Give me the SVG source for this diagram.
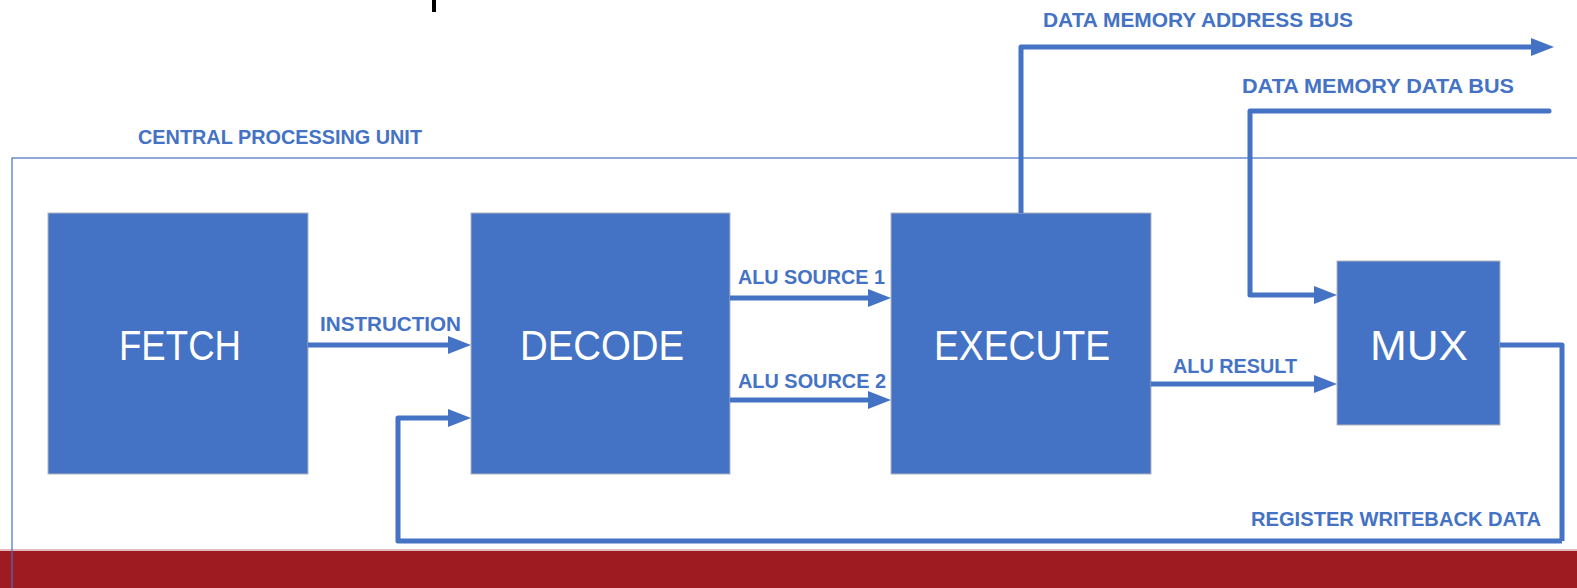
<svg xmlns="http://www.w3.org/2000/svg" width="1577" height="588" viewBox="0 0 1577 588">
<style>
.node{fill:#4472C4;stroke:#B0B4BC;stroke-width:1}
.big{font-family:"Liberation Sans",Arial,sans-serif;font-size:42px;fill:#FFFFFF;text-anchor:middle}
.lbl{font-family:"Liberation Sans",Arial,sans-serif;font-size:21px;font-weight:bold;fill:#4472C4}
.wire{fill:none;stroke:#4472C4;stroke-width:5;stroke-linejoin:round}
</style>
<defs>
<marker id="ah" markerUnits="userSpaceOnUse" markerWidth="24" markerHeight="20" refX="2" refY="9" orient="auto">
<path d="M0,0 L23,9 L0,18 z" fill="#4472C4"/>
</marker>
</defs>
<rect x="0" y="0" width="1577" height="588" fill="#FFFFFF"/>
<rect x="432" y="0" width="4" height="12" fill="#000000"/>
<g id="footer">
<rect x="0" y="551" width="1577" height="37" fill="#9E1B22"/>
<rect x="0" y="549" width="1577" height="2" fill="#E3B9BB"/>
</g>
<g id="cpu">
<rect x="12" y="158" width="1600" height="500" fill="none" stroke="#4472C4" stroke-width="1.2"/>
<text class="lbl" x="138" y="144" textLength="284" lengthAdjust="spacingAndGlyphs">CENTRAL PROCESSING UNIT</text>
</g>
<g id="fetch">
<rect class="node" x="48" y="213" width="260" height="261"/>
<text class="big" x="180" y="360" textLength="122" lengthAdjust="spacingAndGlyphs">FETCH</text>
</g>
<g id="decode">
<rect class="node" x="471" y="213" width="259" height="261"/>
<text class="big" x="602" y="360" textLength="164" lengthAdjust="spacingAndGlyphs">DECODE</text>
</g>
<g id="execute">
<rect class="node" x="891" y="213" width="260" height="261"/>
<text class="big" x="1022" y="360" textLength="176" lengthAdjust="spacingAndGlyphs">EXECUTE</text>
</g>
<g id="mux">
<rect class="node" x="1337" y="261" width="163" height="164"/>
<text class="big" x="1419" y="360" textLength="98" lengthAdjust="spacingAndGlyphs">MUX</text>
</g>
<g id="connectors">
<path class="wire" d="M308,345 H450" marker-end="url(#ah)"/>
<text class="lbl" x="320" y="331" textLength="141" lengthAdjust="spacingAndGlyphs">INSTRUCTION</text>
<path class="wire" d="M730,298 H870" marker-end="url(#ah)"/>
<text class="lbl" x="738" y="284" textLength="147" lengthAdjust="spacingAndGlyphs">ALU SOURCE 1</text>
<path class="wire" d="M730,400 H870" marker-end="url(#ah)"/>
<text class="lbl" x="738" y="388" textLength="148" lengthAdjust="spacingAndGlyphs">ALU SOURCE 2</text>
<path class="wire" d="M1151,384 H1316" marker-end="url(#ah)"/>
<text class="lbl" x="1173" y="373" textLength="124" lengthAdjust="spacingAndGlyphs">ALU RESULT</text>
<path class="wire" d="M1021,213 V47 H1533" marker-end="url(#ah)"/>
<text class="lbl" x="1043" y="27" textLength="310" lengthAdjust="spacingAndGlyphs">DATA MEMORY ADDRESS BUS</text>
<path class="wire" d="M1549,111 H1250 V295 H1316" stroke-linecap="round" marker-end="url(#ah)"/>
<text class="lbl" x="1242" y="93" textLength="272" lengthAdjust="spacingAndGlyphs">DATA MEMORY DATA BUS</text>
<path class="wire" d="M1562,541 H398 V418 H450" marker-end="url(#ah)"/>
<path class="wire" d="M1500,345 H1562 V541" stroke="#3F66B2" stroke-linejoin="miter"/>
<text class="lbl" x="1251" y="526" textLength="290" lengthAdjust="spacingAndGlyphs">REGISTER WRITEBACK DATA</text>
</g>
</svg>
